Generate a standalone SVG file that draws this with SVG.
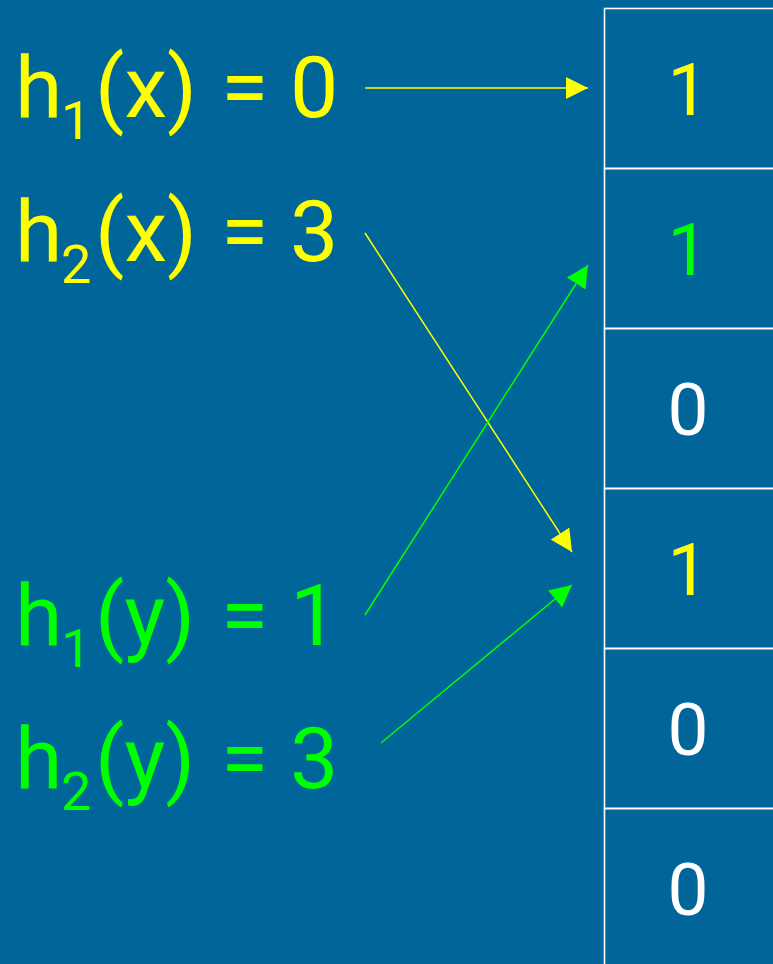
<svg xmlns="http://www.w3.org/2000/svg" width="773" height="964" viewBox="0 0 773 964">
<defs>
<style>
.lbl{font-family:Roboto,"Liberation Sans",sans-serif;font-size:86px}
.sub{font-size:54px}
.cell{fill:none;stroke:#ffffff;stroke-width:1.6}
.num{font-family:Roboto,"Liberation Sans",sans-serif;font-size:73px;text-anchor:middle}
.y{fill:#ffff00}
.g{fill:#00ff00}
.w{fill:#ffffff}
.ay{stroke:#ffff00;stroke-width:1.5;fill:none}
.ag{stroke:#00ff00;stroke-width:1.5;fill:none}
</style>
<marker id="my" markerUnits="userSpaceOnUse" markerWidth="22" markerHeight="22" refX="22" refY="11" orient="auto" viewBox="0 0 22 22"><path d="M0,0 L22,11 L0,22 Z" fill="#ffff00"/></marker>
<marker id="mg" markerUnits="userSpaceOnUse" markerWidth="22" markerHeight="22" refX="22" refY="11" orient="auto" viewBox="0 0 22 22"><path d="M0,0 L22,11 L0,22 Z" fill="#00ff00"/></marker>
</defs>
<rect x="0" y="0" width="773" height="964" fill="#006699"/>
<g id="array">
<g id="cell0"><rect class="cell" x="604.5" y="8.5" width="200" height="160"/><text class="num y" x="688" y="115">1</text></g>
<g id="cell1"><rect class="cell" x="604.5" y="168.5" width="200" height="160"/><text class="num g" x="688" y="275">1</text></g>
<g id="cell2"><rect class="cell" x="604.5" y="328.5" width="200" height="160"/><text class="num w" x="688" y="435">0</text></g>
<g id="cell3"><rect class="cell" x="604.5" y="488.5" width="200" height="160"/><text class="num y" x="688" y="595">1</text></g>
<g id="cell4"><rect class="cell" x="604.5" y="648.5" width="200" height="160"/><text class="num w" x="688" y="755">0</text></g>
<g id="cell5"><rect class="cell" x="604.5" y="808.5" width="200" height="200"/><text class="num w" x="688" y="915">0</text></g>
</g>
<g id="h1x"><text class="lbl y" x="15" y="117">h<tspan class="sub" x="61" dy="22">1</tspan><tspan x="95" dy="-22">(x)</tspan><tspan x="221">=</tspan><tspan x="290">0</tspan></text></g>
<g id="h2x"><text class="lbl y" x="15" y="261">h<tspan class="sub" x="61" dy="22">2</tspan><tspan x="95" dy="-22">(x)</tspan><tspan x="221">=</tspan><tspan x="290">3</tspan></text></g>
<g id="h1y"><text class="lbl g" x="15" y="645">h<tspan class="sub" x="61" dy="22">1</tspan><tspan x="95" dy="-22">(y)</tspan><tspan x="221">=</tspan><tspan x="290">1</tspan></text></g>
<g id="h2y"><text class="lbl g" x="15" y="788">h<tspan class="sub" x="61" dy="22">2</tspan><tspan x="95" dy="-22">(y)</tspan><tspan x="221">=</tspan><tspan x="290">3</tspan></text></g>
<g id="connectors">
<line class="ay" x1="365" y1="88" x2="588" y2="88" marker-end="url(#my)"/>
<line class="ay" x1="365" y1="233" x2="572" y2="552" marker-end="url(#my)"/>
<line class="ag" x1="365" y1="615" x2="588" y2="265" marker-end="url(#mg)"/>
<line class="ag" x1="381" y1="743" x2="572" y2="585" marker-end="url(#mg)"/>
</g>
</svg>
